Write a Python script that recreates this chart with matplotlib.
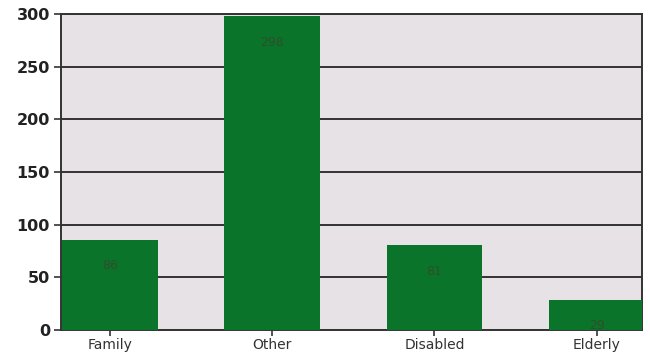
import matplotlib.pyplot as plt

categories = ["Family", "Other", "Disabled", "Elderly"]
counts = [86, 298, 81, 29]
y_ticks = [0, 50, 100, 150, 200, 250, 300]

fig = plt.figure(figsize=(6.5, 3.6), dpi=100)
ax = fig.add_axes([0.094, 0.083, 0.894, 0.878])
ax.set_facecolor("#e6e2e6")

x = range(len(categories))
bars = ax.bar(x, counts, width=0.59, color="#0b742b", zorder=3)

for b, v in zip(bars, counts):
    ax.annotate(str(v), (b.get_x() + b.get_width() / 2, v), xytext=(0, -19),
                textcoords="offset points", ha="center", va="center",
                fontsize=9, color="#2e4f2a", zorder=4)

ax.set_xlim(-0.3, 3.28)
ax.set_ylim(0, 300)
ax.set_yticks(y_ticks)
ax.yaxis.grid(True, color="#333333", linewidth=1.4, zorder=1)
ax.set_xticks(list(x))
ax.set_xticklabels(categories, fontsize=10, color="#222222")
ax.tick_params(axis="y", labelsize=11.5, length=5, width=1.2, colors="#333333", pad=3)
ax.tick_params(axis="x", length=4, width=1.2, colors="#333333", pad=2)
for lab in ax.get_yticklabels():
    lab.set_fontweight("bold")
    lab.set_color("#222222")
for s in ax.spines.values():
    s.set_color("#333333")
    s.set_linewidth(1.4)

fig.savefig("out.png", dpi=100)
